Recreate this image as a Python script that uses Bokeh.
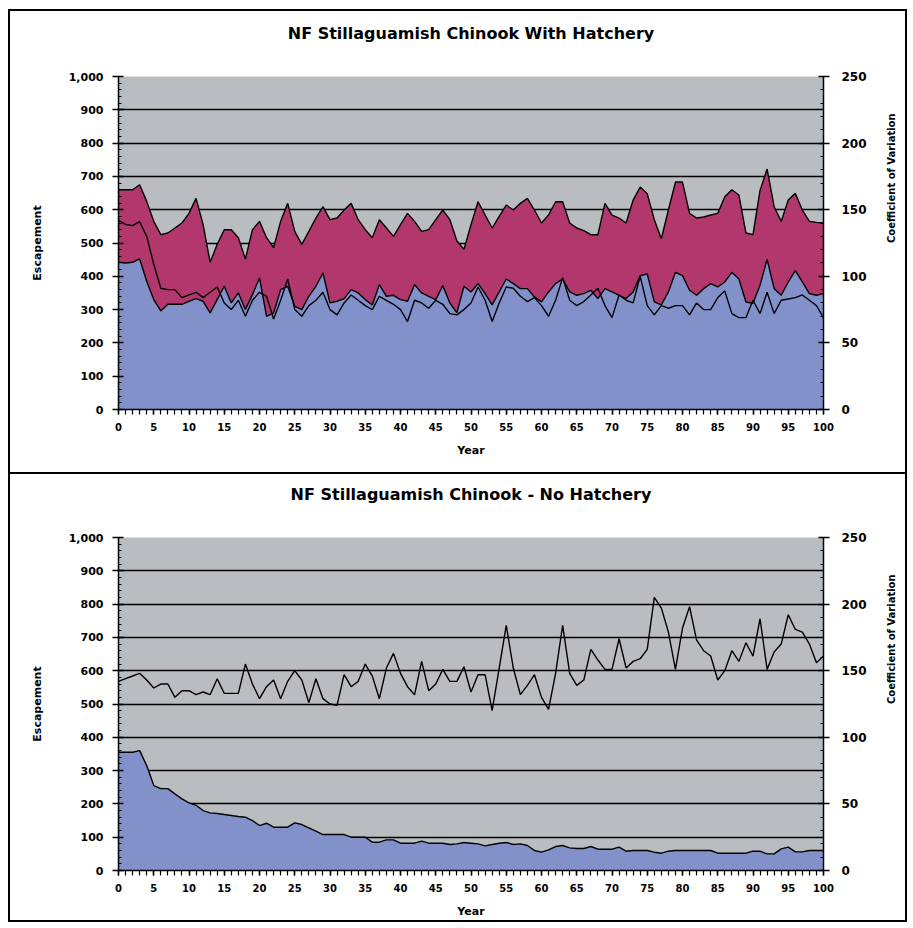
import math
from bokeh.plotting import figure
from bokeh.models import Range1d, LinearAxis, SingleIntervalTicker, NumeralTickFormatter, FixedTicker, Title
from bokeh.layouts import column
from bokeh.embed import file_html
from bokeh.resources import INLINE

years = list(range(101))

# NF Stillaguamish Chinook With Hatchery
top_total = [660, 660, 660, 675, 625, 565, 525, 530, 545, 560, 589, 634, 555, 442, 496, 540, 540, 516, 452, 540,
             565, 516, 486, 565, 619, 535, 496, 535, 575, 609, 570, 575, 599, 619, 570, 540, 516, 570, 545, 520,
             555, 589, 565, 535, 540, 570, 599, 570, 506, 481, 555, 624, 584, 545, 580, 614, 599, 619, 634, 599,
             560, 584, 624, 624, 560, 545, 537, 525, 525, 619, 584, 575, 560, 629, 668, 648, 570, 513, 599, 683,
             683, 589, 575, 578, 584, 589, 639, 660, 644, 530, 525, 658, 722, 609, 565, 629, 649, 599, 565, 562,
             560]
top_natural = [442, 440, 442, 452, 385, 330, 296, 316, 316, 316, 325, 333, 325, 290, 330, 370, 320, 350, 300, 345,
               395, 280, 290, 360, 370, 310, 300, 340, 370, 410, 320, 325, 333, 360, 350, 330, 314, 375, 340, 343,
               330, 325, 375, 350, 340, 330, 372, 320, 290, 370, 353, 378, 348, 314, 353, 392, 378, 363, 363, 338,
               323, 353, 378, 392, 353, 343, 348, 358, 333, 363, 353, 343, 333, 353, 402, 407, 323, 314, 353, 412,
               402, 358, 343, 363, 378, 368, 383, 412, 392, 323, 319, 373, 451, 363, 343, 383, 417, 383, 348, 343,
               348]
top_cv = [142, 139, 138, 141, 130, 109, 91, 90, 90, 84, 86, 88, 84, 88, 92, 80, 75, 82, 70, 82,
          88, 85, 68, 82, 98, 75, 70, 78, 82, 88, 75, 71, 80, 86, 82, 78, 75, 85, 82, 79,
          75, 66, 82, 80, 76, 82, 79, 72, 71, 75, 80, 92, 82, 66, 80, 92, 91, 85, 81, 84,
          78, 70, 82, 99, 82, 78, 81, 86, 91, 78, 69, 86, 82, 80, 100, 78, 71, 78, 76, 78,
          78, 71, 80, 75, 75, 84, 89, 72, 69, 69, 82, 72, 88, 72, 82, 83, 84, 86, 82, 78,
          69]

# NF Stillaguamish Chinook - No Hatchery
bot_escapement = [355, 355, 355, 360, 315, 255, 246, 246, 230, 215, 203, 196, 180, 173, 171, 168, 165, 162, 160, 150,
                  135, 142, 130, 130, 130, 143, 138, 128, 118, 108, 108, 108, 108, 100, 100, 100, 85, 85, 92, 92,
                  82, 82, 82, 88, 82, 82, 82, 78, 80, 84, 82, 80, 74, 78, 82, 84, 78, 80, 75, 60,
                  55, 62, 72, 75, 68, 66, 66, 72, 64, 64, 64, 70, 58, 60, 60, 60, 55, 52, 58, 60,
                  60, 60, 60, 60, 60, 52, 52, 52, 52, 52, 58, 58, 50, 50, 65, 70, 56, 56, 60, 60,
                  60]
bot_cv = [142, 144, 146, 148, 143, 137, 140, 140, 130, 135, 135, 132, 134, 132, 144, 133, 133, 133, 155, 140,
          129, 138, 143, 129, 142, 150, 143, 126, 144, 129, 125, 124, 147, 138, 142, 155, 146, 129, 152, 163,
          148, 138, 132, 157, 135, 140, 151, 142, 142, 153, 134, 147, 147, 120, 152, 184, 152, 132, 139, 147,
          130, 121, 148, 184, 148, 139, 143, 166, 158, 151, 151, 174, 152, 157, 159, 166, 205, 197, 179, 151,
          182, 198, 173, 165, 161, 143, 150, 165, 157, 171, 161, 189, 151, 164, 170, 192, 181, 179, 170, 156,
          161]

titles = ["NF Stillaguamish Chinook With Hatchery", "NF Stillaguamish Chinook - No Hatchery"]
y_ticks = [100, 200, 300, 400, 500, 600, 700, 800, 900]

PLOT_BG = "#B9BDC0"
MAROON = "#B1376C"
BLUE = "#8391CB"
FONT = "DejaVu Sans"


def style_axis(ax, label, label_size, label_standoff, tick_standoff, tick_size):
    ax.axis_label = label
    ax.axis_label_text_font = FONT
    ax.axis_label_text_font_style = "bold"
    ax.axis_label_text_font_size = label_size
    ax.axis_label_text_color = "black"
    ax.axis_label_standoff = label_standoff
    ax.major_label_text_font = FONT
    ax.major_label_text_font_style = "bold"
    ax.major_label_text_font_size = tick_size
    ax.major_label_text_color = "black"
    ax.major_label_standoff = tick_standoff
    ax.axis_line_color = "black"
    ax.axis_line_width = 1.5
    ax.major_tick_line_color = "black"
    ax.major_tick_line_width = 1.5
    ax.minor_tick_line_color = "black"
    ax.minor_tick_line_width = 1.2


def make_panel(title, total, natural, cv, styles, height, mb_top, mb_bottom):
    p = figure(width=899, height=height, output_backend="svg", toolbar_location=None,
               x_range=Range1d(0, 100), y_range=Range1d(0, 1000),
               min_border_left=108, min_border_right=86,
               min_border_top=mb_top, min_border_bottom=mb_bottom,
               background_fill_color=PLOT_BG, border_fill_color="white",
               outline_line_color=None, title_location=None, styles=styles)
    p.extra_y_ranges = {"cv": Range1d(0, 250)}

    # spacer (closest to the frame), then the visible title above it
    p.add_layout(Title(text=" ", text_font_size="10px", standoff=21), "above")
    p.add_layout(Title(text=title, align="center", text_font=FONT, text_font_style="bold",
                       text_font_size="16px", text_color="black", standoff=0), "above")

    p.xgrid.visible = False
    p.ygrid.ticker = FixedTicker(ticks=y_ticks)
    p.ygrid.grid_line_color = "black"
    p.ygrid.grid_line_width = 1.4

    if total is not None:
        p.varea(x=years, y1=0, y2=total, fill_color=MAROON)
        p.line(years, total, line_color="black", line_width=1.4)
    p.varea(x=years, y1=0, y2=natural, fill_color=BLUE)
    p.line(years, natural, line_color="black", line_width=1.4)
    p.line(years, cv, line_color="black", line_width=1.4, y_range_name="cv")

    xa = p.xaxis[0]
    xa.ticker = SingleIntervalTicker(interval=5, num_minor_ticks=5)
    style_axis(xa, "Year", "11px", 10, 8, "10px")
    xa.major_tick_in = 0
    xa.major_tick_out = 5
    xa.minor_tick_in = 0
    xa.minor_tick_out = 5

    ya = p.yaxis[0]
    ya.ticker = SingleIntervalTicker(interval=100, num_minor_ticks=5)
    ya.formatter = NumeralTickFormatter(format="0,0")
    style_axis(ya, "Escapement", "11px", 22, 9, "11px")
    ya.major_tick_in = 5
    ya.major_tick_out = 6
    ya.minor_tick_in = 3
    ya.minor_tick_out = 0

    ra = LinearAxis(y_range_name="cv", ticker=SingleIntervalTicker(interval=50, num_minor_ticks=5))
    style_axis(ra, "Coefficient of Variation", "10px", 22, 12, "12px")
    ra.major_tick_in = 5
    ra.major_tick_out = 6
    ra.minor_tick_in = 3
    ra.minor_tick_out = 0
    try:
        ra.axis_label_orientation = math.pi / 2
    except Exception:
        pass
    p.add_layout(ra, "right")
    return p


p1 = make_panel(titles[0], top_total, top_natural, top_cv,
                {"border-left": "2px solid black", "border-right": "2px solid black",
                 "border-top": "2px solid black"}, 463, 65, 65)
p2 = make_panel(titles[1], None, bot_escapement, bot_cv,
                {"border": "2px solid black"}, 450, 63, 54)

layout = column(p1, p2, spacing=0, margin=(9, 0, 0, 8))
open("out.html", "w").write(file_html(layout, INLINE))
